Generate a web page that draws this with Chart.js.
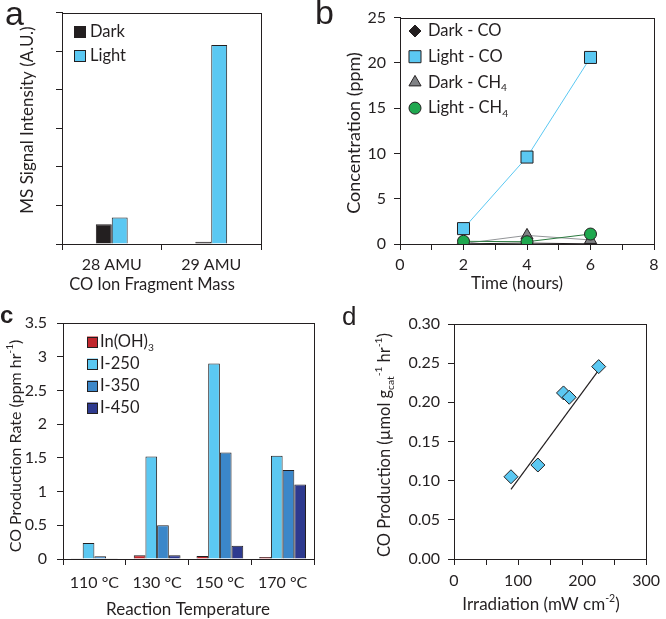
<!DOCTYPE html>
<html>
<head>
<meta charset="utf-8">
<script src="https://cdn.jsdelivr.net/npm/chart.js@4.4.1/dist/chart.umd.min.js"></script>
<style>
  body { margin: 0; background: #fff; }
  #wrap { position: relative; width: 666px; height: 619px; overflow: hidden; }
  #wrap canvas { position: absolute; }
  .tag { position: absolute; font-family: 'Liberation Sans', Arial, sans-serif; color: #231f20; line-height: 1; }
</style>
</head>
<body>
<div id="wrap">
  <canvas id="chartA" width="333" height="300" style="left:0;top:0"></canvas>
  <canvas id="chartB" width="333" height="300" style="left:333px;top:0"></canvas>
  <canvas id="chartC" width="333" height="319" style="left:0;top:300px"></canvas>
  <canvas id="chartD" width="333" height="319" style="left:333px;top:300px"></canvas>
  <div class="tag" style="left:5px;top:-4px;font-size:34px">a</div>
  <div class="tag" style="left:315px;top:-5px;font-size:34px">b</div>
  <div class="tag" style="left:0px;top:303px;font-size:24px;font-weight:bold">c</div>
  <div class="tag" style="left:342px;top:303px;font-size:26px">d</div>
</div>
<script>
// Panel a - MS signal
const massLabels = ['28 AMU', '29 AMU'];
const msDark = [0.51, 0.06];
const msLight = [0.69, 5.16];

// Panel b - concentration over time
const hours = [2, 4, 6];
const darkCO = [0.02, 0.1, 0.02];
const lightCO = [1.7, 9.6, 20.6];
const darkCH4 = [0.05, 0.95, 0.45];
const lightCH4 = [0.3, 0.25, 1.1];

// Panel c - production rate by temperature
const tempLabels = ['110 °C', '130 °C', '150 °C', '170 °C'];
const rateInOH3 = [0.005, 0.054, 0.044, 0.03];
const rateI250 = [0.237, 1.52, 2.90, 1.53];
const rateI350 = [0.04, 0.50, 1.58, 1.32];
const rateI450 = [0.01, 0.054, 0.197, 1.105];

// Panel d - production vs irradiation
const irradiation = [89, 131, 171, 180, 226];
const coProduction = [0.105, 0.12, 0.212, 0.2065, 0.2456];
const fitX = [89, 226];
const fitY = [0.089, 0.241];

// Colours
const INK = '#231f20';
const SKY = '#5bc8f2';
const MID = '#3b87c9';
const NAVY = '#2e3a8f';
const RED = '#c1272d';
const GREY = '#808285';
const GREEN = '#1fa84f';

Chart.defaults.font.family = 'Lato, sans-serif';
Chart.defaults.font.size = 16;
Chart.defaults.color = INK;
Chart.defaults.animation = false;
Chart.defaults.plugins.legend.display = false;
Chart.defaults.plugins.tooltip.enabled = false;

// Helpers
function parseRich(str) {
    const parts = [];
    const re = /_\{([^}]*)\}|\^\{([^}]*)\}|[^_^]+/g;
    let m;
    while ((m = re.exec(str))) {
        if (m[1] !== undefined) parts.push([m[1], 'sub']);
        else if (m[2] !== undefined) parts.push([m[2], 'sup']);
        else parts.push([m[0], '']);
    }
    return parts;
}

function drawRich(ctx, str, x, y, size, align, rotate) {
    const parts = parseRich(str);
    const fontFor = mode => (mode ? size * 0.62 : size) + 'px Lato, sans-serif';
    const widths = parts.map(([t, mode]) => {
        ctx.font = fontFor(mode);
        return ctx.measureText(t).width;
    });
    const total = widths.reduce((s, w) => s + w, 0);
    ctx.save();
    ctx.translate(x, y);
    if (rotate) ctx.rotate(-Math.PI / 2);
    ctx.fillStyle = INK;
    ctx.textBaseline = 'middle';
    ctx.textAlign = 'left';
    let cx = align === 'center' ? -total / 2 : 0;
    parts.forEach(([t, mode], i) => {
        ctx.font = fontFor(mode);
        const dy = mode === 'sub' ? size * 0.32 : mode === 'sup' ? -size * 0.38 : 0;
        ctx.fillText(t, cx, dy);
        cx += widths[i];
    });
    ctx.restore();
}

function fixWidth(w) {
    return scale => { scale.width = w; };
}

function fixHeight(h) {
    return scale => { scale.height = h; };
}

function axisOpts(extra) {
    return Object.assign({
        border: { color: INK, width: 1 },
        grid: { drawOnChartArea: false, color: INK, tickLength: 6 }
    }, extra);
}

// Frame, titles and legend drawn on top of each panel
const decor = {
    id: 'decor',
    afterDraw(chart, args, opts) {
        const ctx = chart.ctx;
        const area = chart.chartArea;
        ctx.save();
        ctx.strokeStyle = INK;
        ctx.lineWidth = 1;
        ctx.strokeRect(Math.round(area.left) + 0.5, Math.round(area.top) + 0.5,
            Math.round(area.right) - Math.round(area.left), Math.round(area.bottom) - Math.round(area.top));
        ctx.restore();

        if (opts.xTitle) drawRich(ctx, opts.xTitle.text, opts.xTitle.x, opts.xTitle.y, opts.xTitle.size, 'center', false);
        if (opts.yTitle) drawRich(ctx, opts.yTitle.text, opts.yTitle.x, opts.yTitle.y, opts.yTitle.size, 'center', true);

        const lg = opts.legend;
        if (!lg) return;
        chart.data.datasets.forEach((ds, i) => {
            const cy = lg.y + i * lg.gap;
            ctx.save();
            ctx.fillStyle = ds.backgroundColor;
            ctx.strokeStyle = INK;
            ctx.lineWidth = 1;
            if (lg.box) {
                ctx.fillRect(lg.x, cy - lg.box / 2, lg.box, lg.box);
                ctx.strokeRect(lg.x + 0.5, Math.round(cy - lg.box / 2) + 0.5, lg.box - 1, lg.box - 1);
            } else {
                Chart.helpers.drawPoint(ctx, {
                    pointStyle: ds.pointStyle,
                    radius: ds.pointRadius,
                    rotation: 0,
                    borderWidth: 1
                }, lg.x, cy);
            }
            ctx.restore();
            drawRich(ctx, ds.label, lg.textX, cy, lg.size, 'left', false);
        });
    }
};

// Panel a
new Chart(document.getElementById('chartA'), {
    type: 'bar',
    data: {
        labels: massLabels,
        datasets: [
            { label: 'Dark', data: msDark, backgroundColor: INK, borderColor: INK, borderWidth: 1 },
            { label: 'Light', data: msLight, backgroundColor: SKY, borderColor: INK, borderWidth: 1 }
        ]
    },
    options: {
        responsive: false,
        layout: { padding: { top: 10, right: 72, left: 0, bottom: 0 } },
        datasets: { bar: { categoryPercentage: 0.32, barPercentage: 1 } },
        scales: {
            x: axisOpts({ afterFit: fixHeight(56), ticks: { padding: 5, maxRotation: 0, minRotation: 0 } }),
            y: axisOpts({ min: 0, max: 6, afterFit: fixWidth(62), ticks: { stepSize: 1, callback: () => '' } })
        },
        plugins: {
            decor: {
                xTitle: { text: 'CO Ion Fragment Mass', x: 152, y: 285, size: 16.5 },
                yTitle: { text: 'MS Signal Intensity (A.U.)', x: 28, y: 120, size: 17 },
                legend: { x: 74, y: 32, gap: 24, box: 12, textX: 90, size: 16.5 }
            }
        }
    },
    plugins: [decor]
});

// Panel b
const pts = ys => hours.map((h, i) => ({ x: h, y: ys[i] }));
new Chart(document.getElementById('chartB'), {
    type: 'scatter',
    data: {
        datasets: [
            { label: 'Dark - CO', data: pts(darkCO), showLine: true, order: 3, pointStyle: 'rectRot', pointRadius: 6,
              backgroundColor: INK, pointBorderColor: INK, borderColor: INK, borderWidth: 1 },
            { label: 'Light - CO', data: pts(lightCO), showLine: true, order: 2, pointStyle: 'rect', pointRadius: 8.5,
              backgroundColor: SKY, pointBorderColor: INK, borderColor: SKY, borderWidth: 1 },
            { label: 'Dark - CH_{4}', data: pts(darkCH4), showLine: true, order: 1, pointStyle: 'triangle', pointRadius: 7,
              backgroundColor: GREY, pointBorderColor: INK, borderColor: '#939598', borderWidth: 1 },
            { label: 'Light - CH_{4}', data: pts(lightCH4), showLine: true, order: 0, pointStyle: 'circle', pointRadius: 6,
              backgroundColor: GREEN, pointBorderColor: INK, borderColor: '#2b7a3f', borderWidth: 1 }
        ]
    },
    options: {
        responsive: false,
        layout: { padding: { top: 9, right: 12, left: 0, bottom: 0 } },
        scales: {
            x: axisOpts({ type: 'linear', min: 0, max: 8, afterFit: fixHeight(56),
                ticks: { stepSize: 1, autoSkip: false, padding: 5, maxRotation: 0, minRotation: 0,
                    callback: v => (v % 2 === 0 ? v : '') } }),
            y: axisOpts({ min: 0, max: 25, afterFit: fixWidth(67),
                ticks: { stepSize: 5, padding: 8 } })
        },
        plugins: {
            decor: {
                xTitle: { text: 'Time (hours)', x: 184, y: 284, size: 17 },
                yTitle: { text: 'Concentration (ppm)', x: 21, y: 133, size: 18 },
                legend: { x: 82, y: 31, gap: 25.7, textX: 95, size: 16.5 }
            }
        }
    },
    plugins: [decor]
});

// Panel c
new Chart(document.getElementById('chartC'), {
    type: 'bar',
    data: {
        labels: tempLabels,
        datasets: [
            { label: 'In(OH)_{3}', data: rateInOH3, backgroundColor: RED, borderColor: INK, borderWidth: 1 },
            { label: 'I-250', data: rateI250, backgroundColor: SKY, borderColor: INK, borderWidth: 1 },
            { label: 'I-350', data: rateI350, backgroundColor: MID, borderColor: INK, borderWidth: 1 },
            { label: 'I-450', data: rateI450, backgroundColor: NAVY, borderColor: INK, borderWidth: 1 }
        ]
    },
    options: {
        responsive: false,
        layout: { padding: { top: 23, right: 19, left: 0, bottom: 0 } },
        datasets: { bar: { categoryPercentage: 0.745, barPercentage: 1 } },
        scales: {
            x: axisOpts({ afterFit: fixHeight(60), ticks: { padding: 8, maxRotation: 0, minRotation: 0 } }),
            y: axisOpts({ min: 0, max: 3.5, afterFit: fixWidth(63),
                ticks: { stepSize: 0.5, padding: 10, callback: v => String(v) } })
        },
        plugins: {
            decor: {
                xTitle: { text: 'Reaction Temperature', x: 188, y: 310, size: 17 },
                yTitle: { text: 'CO Production Rate (ppm hr^{-1})', x: 16, y: 146, size: 16 },
                legend: { x: 87, y: 42, gap: 22, box: 11, textX: 100, size: 16.5 }
            }
        }
    },
    plugins: [decor]
});

// Panel d
new Chart(document.getElementById('chartD'), {
    type: 'scatter',
    data: {
        datasets: [
            { label: 'CO production', data: irradiation.map((x, i) => ({ x, y: coProduction[i] })), order: 0,
              pointStyle: 'rectRot', pointRadius: 7, backgroundColor: SKY, borderColor: INK, borderWidth: 1 },
            { label: 'Linear fit', data: fitX.map((x, i) => ({ x, y: fitY[i] })), order: 1, showLine: true,
              pointRadius: 0, borderColor: INK, borderWidth: 1.2 }
        ]
    },
    options: {
        responsive: false,
        layout: { padding: { top: 24, right: 12, left: 0, bottom: 0 } },
        scales: {
            x: axisOpts({ min: 0, max: 300, afterFit: fixHeight(60),
                ticks: { stepSize: 50, autoSkip: false, padding: 6, maxRotation: 0, minRotation: 0,
                    callback: v => (v % 100 === 0 ? v : '') } }),
            y: axisOpts({ min: 0, max: 0.3, afterFit: fixWidth(121),
                ticks: { stepSize: 0.05, padding: 8, callback: v => v.toFixed(2) } })
        },
        plugins: {
            decor: {
                xTitle: { text: 'Irradiation (mW cm^{-2})', x: 208, y: 305, size: 17 },
                yTitle: { text: 'CO Production (µmol g_{cat}^{-1} hr^{-1})', x: 52, y: 145, size: 16.5 }
            }
        }
    },
    plugins: [decor]
});
</script>
</body>
</html>
